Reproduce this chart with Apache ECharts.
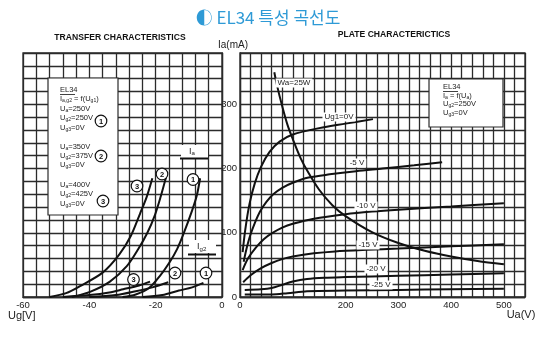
<!DOCTYPE html>
<html><head><meta charset="utf-8">
<script src="https://cdn.jsdelivr.net/npm/echarts@6/dist/echarts.min.js"></script>
<style>html,body{margin:0;padding:0;background:#fff}#c{width:550px;height:340px}</style>
</head><body><div id="c"></div>
<script>
// ---- data (Ia in mA) ----
// transfer characteristics: [Ug1 (V), Ia (mA)]
const transferIa1 = [[-30,0],[-26,4],[-22,14],[-18.7,33],[-15.7,55],[-13.5,75],[-11.7,97],[-9,135],[-7.6,158],[-6.6,185]];
const transferIa2 = [[-45.3,0],[-39.8,8],[-33.8,24],[-28.7,48],[-25.2,75],[-22.5,100],[-20.2,128],[-18.5,156],[-16.9,186]];
const transferIa3 = [[-52,0],[-47,6],[-42.8,17],[-36,38],[-31,66],[-27.5,95],[-24.7,130],[-22.7,156],[-21,185]];
const transferIg1 = [[-24,0],[-18,3],[-13,10],[-9,15],[-5.6,22]];
const transferIg2 = [[-40,0],[-32,3],[-26,9],[-21,15],[-16.2,23]];
const transferIg3 = [[-48,0],[-40,3],[-34,7],[-29.8,12],[-25,18],[-21.7,24]];
// plate characteristics: [Ua (V), Ia (mA)]
const plate0 = [[5,70],[10,105],[18,145],[28,177],[40,203],[56,226],[75,242],[100,253],[150,263],[200,270],[252,277]];
const plate5 = [[7,55],[12,74],[19,95],[28,115],[38,133],[50,148],[63,160],[80,170],[100,178],[130,186],[170,191],[220,196],[270,200],[330,205],[383,210]];
const plate10 = [[5,42],[15,60],[30,77],[45,90],[60,99],[80,108],[100,114],[140,122],[200,129],[250,133],[300,136],[400,141],[500,146]];
const plate15 = [[6,23],[20,34],[40,45],[60,53],[80,59],[100,63],[140,68],[180,71],[240,73.5],[300,75.5],[400,79],[500,82]];
const plate20 = [[9,11],[40,12],[60,14],[80,19],[100,24],[127,28],[160,30],[200,31],[300,33],[400,35],[500,37]];
const plate25 = [[9,4],[60,4],[90,6],[127,9],[200,10],[300,11],[400,12],[500,13]];
const power25W = [[65,350],[70,330],[80,297],[90,268],[100,246],[115,216],[130,193],[150,167],[175,143],[200,126],[250,101],[300,84],[350,72],[400,63],[450,56],[500,51]];
// axes
const ugRange = [-60, 0], ugStep = 4, ugLabels = [-60, -40, -20, 0];
const uaRange = [0, 540], uaStep = 20, uaLabels = [0, 200, 300, 400, 500];
const iaRange = [0, 380], iaStep = 20, iaLabels = [0, 100, 200, 300];

const chart = echarts.init(document.getElementById('c'), null, {renderer:'canvas'});
const FONT = '"Liberation Sans", Arial, sans-serif';
const gridLine = {color:'#2b2b2b', width:1.3};
const CURVE = '#111';

function curve(data, idx) {
  return {type:'line', xAxisIndex:idx, yAxisIndex:idx, data:data, smooth:0.3,
    symbol:'none', showSymbol:false, silent:true, z:3,
    lineStyle:{color:CURVE, width:2}};
}
function xAxisOf(idx, r, step, labels) {
  return {type:'value', gridIndex:idx, min:r[0], max:r[1], interval:step,
    axisLine:{show:true, lineStyle:gridLine}, axisTick:{show:false},
    splitLine:{show:true, lineStyle:gridLine},
    axisLabel:{margin:3, fontSize:9.5, color:'#222', fontFamily:FONT,
      formatter:v => labels.indexOf(v) >= 0 ? String(v) : ''}};
}
function yAxisOf(idx, showLabels) {
  return {type:'value', gridIndex:idx, min:iaRange[0], max:iaRange[1], interval:iaStep,
    axisLine:{show:true, lineStyle:gridLine}, axisTick:{show:false},
    splitLine:{show:true, lineStyle:gridLine},
    axisLabel:{show:showLabels, margin:3, fontSize:9.5, color:'#222', fontFamily:FONT,
      formatter:v => iaLabels.indexOf(v) >= 0 ? String(v) : ''}};
}

function mkRich(fs) {
  return {
    n:{fontSize:fs, fontFamily:FONT, color:'#222', lineHeight:fs+1.5},
    s:{fontSize:fs*0.68, fontFamily:FONT, color:'#222', lineHeight:fs*0.68, verticalAlign:'bottom'}
  };
}
function txt(x, y, text, fs) {
  fs = fs || 7.5;
  return {type:'text', x:x, y:y, z:20, silent:true,
    style:{text:text, fill:'#222', font:fs + 'px ' + FONT, align:'left', verticalAlign:'middle', rich:mkRich(fs)}};
}
function rtxt(x, y, s, fs) { // rich text with subscripts, s uses {s|..}
  const t = s.replace(/([^{}|]+)(?![^{]*\})/g, '{n|$1}');
  return txt(x, y, t, fs);
}
function box(x1, y1, x2, y2, z) {
  return {type:'rect', z:z||10, silent:true, shape:{x:x1, y:y1, width:x2-x1, height:y2-y1},
    style:{fill:'#fff', stroke:'#2b2b2b', lineWidth:1.2}};
}
function wrect(x1, y1, x2, y2) {
  return {type:'rect', z:10, silent:true, shape:{x:x1, y:y1, width:x2-x1, height:y2-y1}, style:{fill:'#fff'}};
}
function hline(x1, x2, y, w) {
  return {type:'line', z:21, silent:true, shape:{x1:x1, y1:y, x2:x2, y2:y}, style:{stroke:'#111', lineWidth:w||1}};
}
function circ(x, y, n) {
  return {type:'group', z:22, children:[
    {type:'circle', z:22, silent:true, shape:{cx:x, cy:y, r:5.8}, style:{fill:'#fff', stroke:'#111', lineWidth:1.2}},
    {type:'text', z:23, silent:true, x:x, y:y+0.5, style:{text:String(n), font:'bold 7.5px ' + FONT, fill:'#111', align:'center', verticalAlign:'middle'}}
  ]};
}
function plateLabel(x, y, s) {
  return {type:'text', x:x, y:y, z:20, silent:true,
    style:{text:s, font:'8px ' + FONT, fill:'#222', align:'center', verticalAlign:'middle', backgroundColor:'#fff', padding:[1,2,0,2]}};
}

const graphics = [
  // title
  {type:'text', x:268, y:18, z:30, style:{text:'◐ EL34 특성 곡선도', font:'17px "Noto Sans CJK KR", "Noto Sans", sans-serif', fill:'#2e9ad6', align:'center', verticalAlign:'middle'}},
  {type:'text', x:120, y:38, z:30, style:{text:'TRANSFER CHARACTERISTICS', font:'bold 8.6px ' + FONT, fill:'#111', align:'center', verticalAlign:'middle'}},
  {type:'text', x:394, y:35, z:30, style:{text:'PLATE CHARACTERICTICS', font:'bold 8.6px ' + FONT, fill:'#111', align:'center', verticalAlign:'middle'}},
  {type:'text', x:233, y:45, z:30, style:{text:'Ia(mA)', font:'10px ' + FONT, fill:'#222', align:'center', verticalAlign:'middle'}},
  {type:'text', x:8, y:316, z:30, style:{text:'Ug[V]', font:'11px ' + FONT, fill:'#222', align:'left', verticalAlign:'middle'}},
  {type:'text', x:521, y:315, z:30, style:{text:'Ua(V)', font:'11px ' + FONT, fill:'#222', align:'center', verticalAlign:'middle'}},
  // left legend box
  box(48, 78, 118, 215),
  txt(60, 90, 'EL34'), hline(60, 75, 94.5, 0.8),
  rtxt(60, 98.5, 'I{s|a,g2} = f(U{s|g1})'),
  rtxt(60, 108.5, 'U{s|a}=250V'),
  rtxt(60, 118, 'U{s|g2}=250V'),
  rtxt(60, 128, 'U{s|g3}=0V'),
  rtxt(60, 146.5, 'U{s|a}=350V'),
  rtxt(60, 155.5, 'U{s|g2}=375V'),
  rtxt(60, 165, 'U{s|g3}=0V'),
  rtxt(60, 185, 'U{s|a}=400V'),
  rtxt(60, 194, 'U{s|g2}=425V'),
  rtxt(60, 204, 'U{s|g3}=0V'),
  circ(101, 121, 1), circ(101, 156, 2), circ(103, 201, 3),
  // Ia / Ig2 labels
  wrect(181, 145, 208, 158), rtxt(189, 151.5, 'I{s|a}', 9), hline(180, 208, 158.5, 2),
  wrect(189, 240, 216, 253), rtxt(197, 247, 'I{s|g2}', 9), hline(188, 216, 254.5, 2),
  circ(193, 179.5, 1), circ(162, 174, 2), circ(137, 186, 3),
  circ(206, 273, 1), circ(175, 273, 2), circ(133.5, 279.5, 3),
  // right legend box
  box(429, 79, 503, 127),
  txt(443, 87, 'EL34'), hline(443, 458, 91.5, 0.8),
  rtxt(443, 95.5, 'I{s|a} = f(U{s|a})'),
  rtxt(443, 104, 'U{s|g2}=250V'),
  rtxt(443, 112.5, 'U{s|g3}=0V'),
  // plate labels
  plateLabel(294, 83, 'Wa=25W'),
  plateLabel(339, 117, 'Ug1=0V'),
  plateLabel(357, 163, '-5 V'),
  plateLabel(366, 206, '-10 V'),
  plateLabel(368, 245, '-15 V'),
  plateLabel(376, 269, '-20 V'),
  plateLabel(381, 285, '-25 V')
];

chart.setOption({
  animation:false,
  backgroundColor:'#fff',
  grid:[
    {left:23, right:328, top:53, bottom:43, show:true, borderColor:'#2b2b2b', borderWidth:1.3, backgroundColor:'#fff'},
    {left:240, right:25, top:53, bottom:43, show:true, borderColor:'#2b2b2b', borderWidth:1.3, backgroundColor:'#fff'}
  ],
  xAxis:[xAxisOf(0, ugRange, ugStep, ugLabels), xAxisOf(1, uaRange, uaStep, uaLabels)],
  yAxis:[yAxisOf(0, false), yAxisOf(1, true)],
  series:[
    curve(transferIa1,0), curve(transferIa2,0), curve(transferIa3,0),
    curve(transferIg1,0), curve(transferIg2,0), curve(transferIg3,0),
    curve(plate0,1), curve(plate5,1), curve(plate10,1), curve(plate15,1),
    curve(plate20,1), curve(plate25,1), curve(power25W,1)
  ],
  graphic:graphics
});
</script></body></html>
